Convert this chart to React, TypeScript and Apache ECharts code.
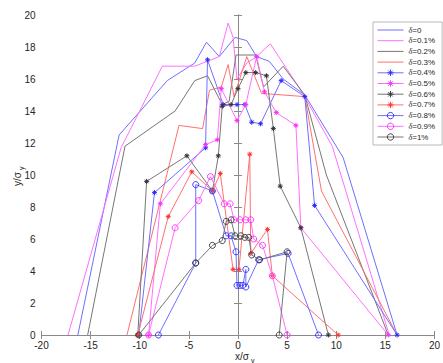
import { useEffect, useRef } from 'react';
import * as echarts from 'echarts';

type P = [number, number];

const xTicks = { min: -20, max: 20, interval: 5 };
const yTicks = { min: 0, max: 20, interval: 2 };

const names = ['δ=0', 'δ=0.1%', 'δ=0.2%', 'δ=0.3%', 'δ=0.4%', 'δ=0.5%', 'δ=0.6%', 'δ=0.7%', 'δ=0.8%', 'δ=0.9%', 'δ=1%'];

const d0: P[] = [[-16.3, 0], [-12.1, 12.5], [-7.2, 15.9], [-4.4, 17.0], [-3.2, 18.3], [-1.9, 17.4], [-0.3, 18.6], [0.9, 18.4], [1.9, 17.4], [3.2, 17.1], [4.6, 16.0], [6.8, 15.0], [10.7, 11.1], [16.2, 0]];
const d01: P[] = [[-17.3, 0], [-11.9, 11.7], [-7.7, 16.8], [-4.4, 16.8], [-1.9, 17.4], [-1.0, 19.5], [-0.5, 18.6], [-0.1, 16.0], [0.9, 17.0], [1.9, 17.4], [3.3, 18.2], [6.6, 15.1], [9.6, 11.8], [15.4, 0]];
const d02: P[] = [[-15.3, 0], [-11.5, 11.8], [-6.4, 14.0], [-4.4, 15.9], [-3.1, 16.2], [-1.6, 14.4], [-0.9, 14.6], [-0.2, 17.5], [1.8, 17.5], [2.6, 15.5], [4.6, 16.8], [6.8, 15.0], [9.0, 10.0], [15.3, 0]];
const d03: P[] = [[-11.3, 0], [-6.0, 13.1], [-3.6, 12.9], [-2.9, 15.3], [-1.7, 15.5], [-1.0, 16.9], [-0.4, 14.9], [0.9, 17.4], [2.4, 15.1], [6.8, 14.9], [8.5, 9.0], [16.2, 0]];
const d04: P[] = [[-10.1, 0], [-8.5, 8.9], [-3.3, 11.7], [-3.1, 17.2], [-1.5, 14.4], [-0.1, 14.4], [0.7, 14.4], [1.4, 13.3], [2.3, 13.2], [4.4, 15.9], [6.8, 14.9], [7.8, 8.1], [16.2, 0]];
const d05: P[] = [[-9.1, 0], [-7.9, 8.2], [-3.3, 11.9], [-2.1, 12.2], [-1.7, 15.4], [-0.1, 13.4], [0.8, 14.4], [1.9, 17.4], [2.7, 15.2], [3.9, 13.9], [5.9, 13.1], [6.4, 6.7], [15.3, 0]];
const d06: P[] = [[-10.2, 0], [-9.3, 9.6], [-5.2, 11.2], [-2.6, 9.0], [-2.0, 11.2], [-1.6, 14.3], [-0.7, 14.4], [0.0, 15.4], [0.8, 16.4], [1.8, 16.4], [2.9, 16.2], [3.6, 12.9], [4.3, 9.3], [6.4, 6.7], [9.2, 0]];
const d07: P[] = [[-10.2, 0], [-7.1, 7.4], [-4.7, 10.2], [-2.6, 9.0], [-1.8, 10.1], [-0.5, 4.1], [0.1, 4.1], [1.2, 11.3], [1.3, 5.1], [3.0, 6.6], [3.5, 3.7], [10.2, 0]];
const d08: P[] = [[-8.1, 0], [-4.3, 4.5], [-4.3, 9.4], [-2.6, 9.0], [-1.2, 6.2], [-0.7, 6.2], [-0.2, 5.2], [-0.1, 3.1], [0.2, 3.1], [0.5, 3.1], [0.8, 4.1], [0.8, 3.0], [2.1, 4.7], [5.1, 5.1], [8.2, 0]];
const d09: P[] = [[-9.1, 0], [-6.4, 6.7], [-4.0, 8.4], [-2.8, 9.9], [-1.4, 8.2], [-0.8, 8.2], [-0.4, 7.2], [0.2, 7.2], [0.8, 7.2], [1.3, 7.2], [1.6, 6.0], [2.5, 5.6], [3.5, 3.7], [5.0, 0]];
const d10: P[] = [[-10.1, 0], [-4.3, 4.5], [-2.6, 5.6], [-1.6, 5.9], [-1.2, 7.1], [-0.7, 7.2], [-0.3, 6.2], [0.3, 6.2], [0.7, 6.1], [1.1, 6.1], [1.4, 5.0], [2.2, 4.7], [5.0, 5.2], [4.2, 0]];

const seriesData = [d0, d01, d02, d03, d04, d05, d06, d07, d08, d09, d10];

const LINE = { b: '#6f6fff', m: '#ff70ff', k: '#767676', r: '#ff7070' };
const MARK = { b: '#2a2aff', m: '#ff2aff', k: '#333333', r: '#ff3030' };
const colorKeys: ('b' | 'm' | 'k' | 'r')[] = ['b', 'm', 'k', 'r', 'b', 'm', 'k', 'r', 'b', 'm', 'k'];
const markers = ['none', 'none', 'none', 'none', 'star', 'star', 'star', 'star', 'o', 'o', 'o'];

const STAR = 'path://M5,0L5,10M0,5L10,5M1.5,1.5L8.5,8.5M8.5,1.5L1.5,8.5';

export default function App() {
  const ref = useRef<HTMLDivElement>(null);
  useEffect(() => {
    if (!ref.current) return;
    const chart = echarts.init(ref.current, undefined, { renderer: 'svg' });
    const font = 'Liberation Sans, Arial, sans-serif';
    const axisLine = { show: true, lineStyle: { color: '#8a8a8a', width: 1 } };
    const series = seriesData.map((data, i) => {
      const ck = colorKeys[i];
      const mk = markers[i];
      const base: any = {
        name: names[i],
        type: 'line',
        data,
        lineStyle: { color: LINE[ck], width: 1 },
        emphasis: { disabled: true },
        z: 2 + i,
      };
      if (mk === 'none') {
        base.symbol = 'none';
        base.itemStyle = { color: LINE[ck] };
      } else if (mk === 'star') {
        base.symbol = STAR;
        base.symbolSize = 5;
        base.itemStyle = { color: MARK[ck], borderColor: MARK[ck], borderWidth: 1 };
      } else {
        base.symbol = 'circle';
        base.symbolSize = 6;
        base.itemStyle = { color: 'rgba(255,255,255,0)', borderColor: MARK[ck], borderWidth: 0.9 };
      }
      return base;
    });
    const legendData = names.map((n, i) =>
      markers[i] === 'none'
        ? { name: n, itemStyle: { opacity: 0 }, lineStyle: { width: 1, color: LINE[colorKeys[i]] } }
        : markers[i] === 'star'
        ? { name: n, itemStyle: { color: 'rgba(0,0,0,0)', borderColor: MARK[colorKeys[i]], borderWidth: 0.9 }, lineStyle: { width: 1, color: LINE[colorKeys[i]] } }
        : { name: n, itemStyle: { color: 'rgba(255,255,255,0)', borderColor: MARK[colorKeys[i]], borderWidth: 0.9 }, lineStyle: { width: 1, color: LINE[colorKeys[i]] } }
    );
    chart.setOption({
      animation: false,
      backgroundColor: '#ffffff',
      grid: { left: 41.5, right: -4, top: 15, bottom: 28, containLabel: false },
      xAxis: [
        {
          type: 'value', ...xTicks, position: 'bottom',
          axisLine, splitLine: { show: false },
          axisTick: { show: true, inside: true, length: 4, lineStyle: { color: '#8a8a8a' } },
          axisLabel: { fontSize: 10, color: '#262626', fontFamily: font, margin: 5 },
        },
        {
          type: 'value', ...xTicks, position: 'top',
          axisLine, splitLine: { show: false },
          axisTick: { show: true, inside: true, length: 4, lineStyle: { color: '#8a8a8a' } },
          axisLabel: { show: false },
        },
      ],
      yAxis: [
        {
          type: 'value', ...yTicks, position: 'left',
          axisLine, splitLine: { show: false },
          axisTick: { show: true, inside: true, length: 4, lineStyle: { color: '#8a8a8a' } },
          axisLabel: { fontSize: 10, color: '#262626', fontFamily: font, margin: 6 },
        },
        {
          type: 'value', ...yTicks, position: 'right',
          axisLine, splitLine: { show: false },
          axisTick: { show: true, inside: true, length: 4, lineStyle: { color: '#8a8a8a' } },
          axisLabel: { show: false },
        },
      ],
      legend: {
        orient: 'vertical',
        left: 373,
        top: 22,
        data: legendData,
        itemWidth: 26,
        itemHeight: 8,
        itemGap: 1.7,
        padding: [3.5, 7, 3.5, 4],
        backgroundColor: '#ffffff',
        borderColor: '#a8a8a8',
        borderWidth: 0.8,
        selectedMode: false,
        lineStyle: { width: 1 },
        formatter: (n: string) => `{i|δ}{t|${n.slice(1)}}`,
        textStyle: {
          fontSize: 8,
          color: '#262626',
          fontFamily: font,
          lineHeight: 9,
          rich: {
            i: { fontSize: 8, fontStyle: 'italic', fontFamily: 'Liberation Serif, serif', color: '#262626', lineHeight: 9 },
            t: { fontSize: 8, fontFamily: font, color: '#262626', lineHeight: 9 },
          },
        },
      },
      graphic: [
        { type: 'text', left: 235, top: 351, style: { text: 'x/σ', fontSize: 10, fill: '#262626', fontFamily: font } },
        { type: 'text', left: 251, top: 357, style: { text: 'y', fontSize: 7, fill: '#262626', fontFamily: font } },
        { type: 'text', x: 12, y: 186, rotation: Math.PI / 2, style: { text: 'y/σ', fontSize: 10, fill: '#262626', fontFamily: font, align: 'left', verticalAlign: 'top' } },
        { type: 'text', x: 18, y: 170, rotation: Math.PI / 2, style: { text: 'y', fontSize: 7, fill: '#262626', fontFamily: font, align: 'left', verticalAlign: 'top' } },
      ],
      series,
    });
    return () => chart.dispose();
  }, []);
  return <div ref={ref} style={{ width: 443, height: 363, position: 'absolute', left: 0, top: 0 }} />;
}
